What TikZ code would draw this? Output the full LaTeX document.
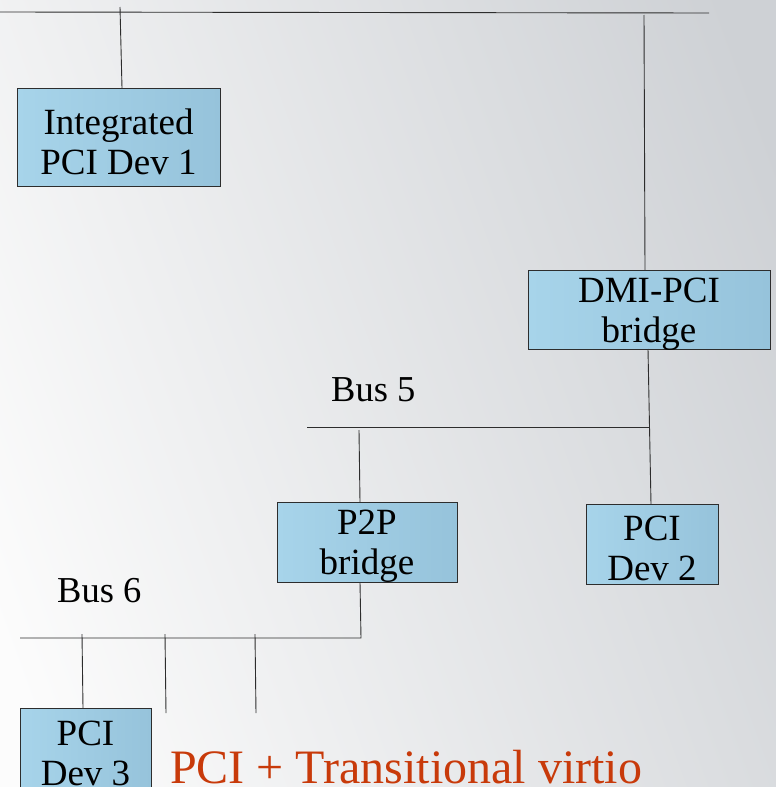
\documentclass[tikz,border=0pt]{standalone}
\usepackage{fontspec}
\setmainfont{Liberation Serif}
\definecolor{bgL}{RGB}{252,252,252}
\definecolor{bgR}{RGB}{206,209,213}
\definecolor{boxL}{RGB}{167,212,234}
\definecolor{boxR}{RGB}{150,195,219}
\definecolor{wirec}{RGB}{45,45,45}
\definecolor{redtxt}{RGB}{200,58,10}
\begin{document}
\begin{tikzpicture}[x=1pt,y=-1pt,
  wire/.style={draw=wirec, line width=0.9pt},
  box/.style={draw=wirec, line width=0.9pt, left color=boxL, right color=boxR,
    anchor=north west, inner sep=0pt, outer sep=0pt},
  boxtext/.style={inner sep=0pt, align=center, yshift=-4.5pt,
    font=\fontsize{37}{40}\selectfont},
  lbl/.style={anchor=base west, inner sep=0pt, font=\fontsize{36.5}{40}\selectfont}]
\useasboundingbox (0,0) rectangle (776,787);
\clip (0,0) rectangle (776,787);
\shade[left color=bgL, right color=bgR, shading angle=110] (-60,-60) rectangle (836,847);

% boxes
\node[box, minimum width=203pt, minimum height=98pt] (int) at (17,88) {};
\node[boxtext] (intt) at (int.center) {Integrated\\PCI Dev 1};
\node[box, minimum width=242pt, minimum height=79pt] (dmi) at (528,270) {};
\node[boxtext] (dmit) at (dmi.center) {DMI-PCI\\bridge};
\node[box, minimum width=180pt, minimum height=80pt] (p2p) at (277,502) {};
\node[boxtext] (p2pt) at (p2p.center) {P2P\\bridge};
\node[box, minimum width=132pt, minimum height=80pt] (dev2) at (586,504) {};
\node[boxtext] (dev2t) at (dev2.center) {PCI\\Dev 2};
\node[box, minimum width=131pt, minimum height=81pt] (dev3) at (20,708) {};
\node[boxtext] (dev3t) at (dev3.center) {PCI\\Dev 3};

% buses
\coordinate (b0a) at (0,12);
\coordinate (b0b) at (709,13);
\draw[wire] (b0a) -- (b0b);
\coordinate (t1) at (120,7);
\draw[wire] (t1) -- ([xshift=3.5pt]int.north);
\coordinate (t2) at (644,15);
\draw[wire] (t2) -- ([xshift=-4pt]dmi.north);
\draw[wire] ([xshift=-1pt]dmi.south) -- ([xshift=-1pt]dev2.north);

\coordinate (b5a) at (307,427);
\coordinate (b5b) at (650,427);
\draw[wire] (b5a) -- (b5b);
\coordinate (t3) at (359,430);
\draw[wire] (t3) -- ([xshift=-7pt]p2p.north);

\coordinate (b6a) at (20,638);
\coordinate (b6b) at (361,638);
\draw[wire] ([xshift=-7pt]p2p.south) -- (b6b) -- (b6a);
\coordinate (t4) at (82,634);
\draw[wire] (t4) -- ([xshift=-2.5pt]dev3.north);
\coordinate (t5) at (165,634);
\coordinate (e5) at (166,713);
\draw[wire] (t5) -- (e5);
\coordinate (t6) at (255,634);
\coordinate (e6) at (256,713);
\draw[wire] (t6) -- (e6);

% labels
\node[lbl] (bus5) at (331,401) {Bus 5};
\node[lbl] (bus6) at (57,602) {Bus 6};
\node[lbl, text=redtxt, font=\fontsize{48}{50}\selectfont] (title) at (170,783) {PCI + Transitional virtio};
\end{tikzpicture}
\end{document}
